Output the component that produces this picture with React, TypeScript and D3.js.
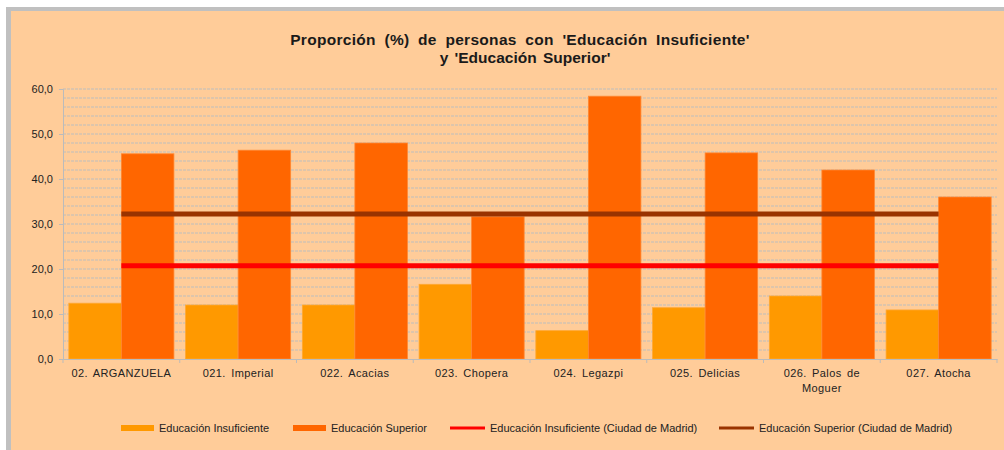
import React, { useEffect, useRef } from 'react';
import * as d3 from 'd3';

const categories = [
    '02. ARGANZUELA', '021. Imperial', '022. Acacias', '023. Chopera',
    '024. Legazpi', '025. Delicias', '026. Palos de Moguer', '027. Atocha'
];
const insuficiente = [12.4, 12.0, 12.0, 16.6, 6.3, 11.4, 14.0, 10.9];
const superior = [45.6, 46.4, 48.0, 31.6, 58.4, 45.8, 42.0, 36.0];
const madridInsuficiente = 20.7;
const madridSuperior = 32.2;
const yTicks = [0, 10, 20, 30, 40, 50, 60];
const seriesNames = [
    'Educación Insuficiente', 'Educación Superior',
    'Educación Insuficiente (Ciudad de Madrid)', 'Educación Superior (Ciudad de Madrid)'
];

export default function App() {
    const svgRef = useRef<SVGSVGElement>(null);

    const width = 1004;
    const height = 450;
    const margin = { top: 89, right: 7, bottom: 91, left: 63 };
    const innerWidth = width - margin.left - margin.right;
    const innerHeight = height - margin.top - margin.bottom;

    useEffect(() => {
        const svg = d3.select(svgRef.current);
        svg.selectAll('*').remove();
        const font = '"Liberation Sans", Arial, sans-serif';

        // frame
        svg.append('rect').attr('width', width).attr('height', height).attr('fill', '#ffffff');
        svg.append('rect').attr('x', 6).attr('y', 7).attr('width', width - 6).attr('height', height - 7).attr('fill', '#c0c0c0');
        svg.append('rect').attr('x', 11).attr('y', 11).attr('width', width - 11).attr('height', height - 11).attr('fill', '#ffcc99');

        // title
        const title = svg.append('text')
            .attr('text-anchor', 'middle')
            .style('font-family', font).style('font-weight', 'bold').style('font-size', '15.5px').attr('fill', '#1a1a1a');
        title.append('tspan').attr('x', 520).attr('y', 45)
            .style('word-spacing', '4px').style('letter-spacing', '0.3px')
            .text("Proporción (%) de personas con 'Educación Insuficiente'");
        title.append('tspan').attr('x', 525).attr('y', 63)
            .style('word-spacing', '2px')
            .text("y 'Educación Superior'");

        const g = svg.append('g').attr('transform', `translate(${margin.left}, ${margin.top})`);

        const x = d3.scaleBand().domain(categories).range([0, innerWidth]).paddingInner(0).paddingOuter(0);
        const y = d3.scaleLinear().domain([0, 60]).range([innerHeight, 0]);

        // dashed gridlines every 2 units
        g.append('g').selectAll('line')
            .data(d3.range(2, 61, 2))
            .enter().append('line')
            .attr('x1', 0).attr('x2', innerWidth)
            .attr('y1', d => y(d)).attr('y2', d => y(d))
            .attr('stroke', '#bdbdbd').attr('stroke-width', 1.2)
            .attr('stroke-dasharray', '3,1');

        const bw = x.bandwidth();
        const gap = bw * 0.05;
        const barW = (bw - 2 * gap) / 2;

        const groups = g.append('g').selectAll('g')
            .data(categories)
            .enter().append('g')
            .attr('transform', d => `translate(${x(d)},0)`);

        groups.append('rect')
            .attr('x', gap)
            .attr('y', (d, i) => y(insuficiente[i]))
            .attr('width', barW)
            .attr('height', (d, i) => innerHeight - y(insuficiente[i]))
            .attr('fill', '#ff9900').attr('stroke', '#ffa833').attr('stroke-width', 0.8);

        groups.append('rect')
            .attr('x', gap + barW)
            .attr('y', (d, i) => y(superior[i]))
            .attr('width', barW)
            .attr('height', (d, i) => innerHeight - y(superior[i]))
            .attr('fill', '#ff6600').attr('stroke', '#ff8833').attr('stroke-width', 0.8);

        // reference lines
        const x0 = x(categories[0])! + bw / 2;
        const x1 = x(categories[categories.length - 1])! + bw / 2;
        g.append('line').attr('x1', x0).attr('x2', x1)
            .attr('y1', y(madridInsuficiente)).attr('y2', y(madridInsuficiente))
            .attr('stroke', '#ff0000').attr('stroke-width', 5);
        g.append('line').attr('x1', x0).attr('x2', x1)
            .attr('y1', y(madridSuperior)).attr('y2', y(madridSuperior))
            .attr('stroke', '#993300').attr('stroke-width', 5);

        // y axis
        const yAxis = d3.axisLeft(y).tickValues(yTicks).tickSize(4).tickPadding(6)
            .tickFormat(d => d3.format('.1f')(d as number).replace('.', ','));
        const yG = g.append('g').call(yAxis);
        yG.select('.domain').attr('stroke', '#bbbbbb');
        yG.selectAll('.tick line').attr('stroke', '#bbbbbb');
        yG.selectAll('.tick text').style('font-family', font).style('font-size', '11px').attr('fill', '#222');

        // x axis
        const xAxis = d3.axisBottom(x).tickSize(0).tickFormat(() => '');
        const xG = g.append('g').attr('transform', `translate(0, ${innerHeight})`).call(xAxis);
        xG.select('.domain').attr('stroke', '#bbbbbb');
        xG.selectAll('.sep')
            .data(d3.range(categories.length + 1))
            .enter().append('line')
            .attr('x1', i => i * bw).attr('x2', i => i * bw)
            .attr('y1', 0).attr('y2', 4)
            .attr('stroke', '#bbbbbb');

        const labels = g.append('g').selectAll('text')
            .data(categories)
            .enter().append('text')
            .attr('text-anchor', 'middle')
            .attr('y', innerHeight + 18)
            .style('font-family', font).style('font-size', '11px')
            .style('letter-spacing', '0.4px').style('word-spacing', '2px')
            .attr('fill', '#222');
        labels.each(function (d) {
            const t = d3.select(this);
            const cx = x(d)! + bw / 2;
            const parts = d === '026. Palos de Moguer' ? ['026. Palos de', 'Moguer'] : [d];
            parts.forEach((p, k) => {
                t.append('tspan').attr('x', cx).attr('dy', k === 0 ? 0 : 15).text(p);
            });
        });

        // legend
        const legendItems = [
            { x: 121, w: 33, h: 6, color: '#ff9900' },
            { x: 293, w: 33, h: 6, color: '#ff6600' },
            { x: 450, w: 35, h: 3, color: '#ff0000' },
            { x: 719, w: 35, h: 3, color: '#993300' }
        ];
        const legend = svg.append('g');
        legendItems.forEach((item, i) => {
            legend.append('rect')
                .attr('x', item.x).attr('y', 428 - item.h / 2)
                .attr('width', item.w).attr('height', item.h)
                .attr('fill', item.color);
            legend.append('text')
                .attr('x', item.x + item.w + 5).attr('y', 432)
                .style('font-family', font).style('font-size', '11px').attr('fill', '#222')
                .text(seriesNames[i]);
        });
    }, []);

    return (
        <svg ref={svgRef} width={width} height={height}
            style={{ position: 'absolute', left: 0, top: 0, display: 'block' }}></svg>
    );
}
